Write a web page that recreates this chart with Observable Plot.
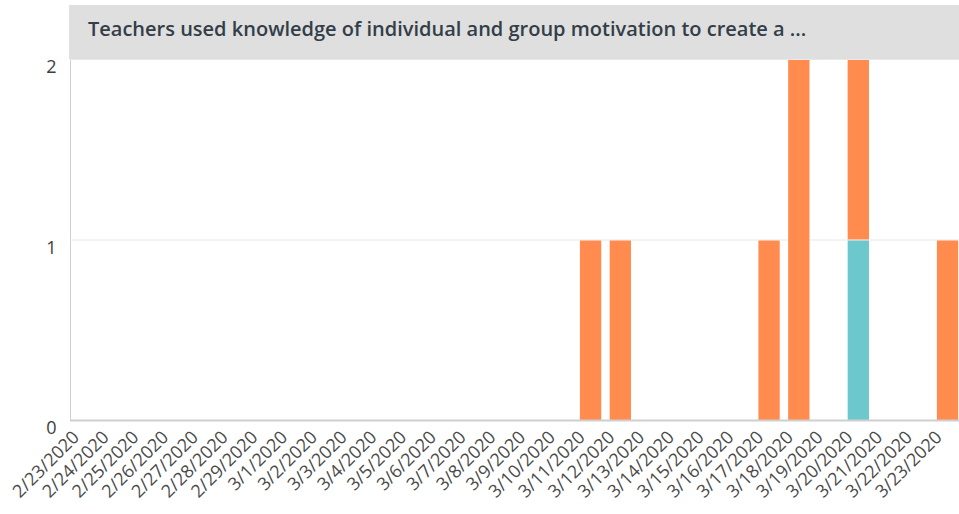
<!DOCTYPE html>
<html>
<head>
<meta charset="utf-8">
<script src="https://cdn.jsdelivr.net/npm/d3@7"></script>
<script src="https://cdn.jsdelivr.net/npm/@observablehq/plot@0.6"></script>
<style>
  html, body { margin: 0; padding: 0; background: #fff; overflow: hidden; }
  #wrap { position: relative; width: 959px; height: 514px; }
  #title {
    position: absolute; left: 69px; top: 5px; width: 890px; height: 54px;
    box-sizing: border-box; padding: 10px 0 0 19px; background: #dfdfdf;
    font-family: "Open Sans", sans-serif; font-weight: 600; font-size: 20px;
    color: #333e48; white-space: nowrap; z-index: 2;
  }
  #chart { position: absolute; left: 0; top: 0; }
  #chart svg text { font-size: 18px; }
</style>
</head>
<body>
<div id="wrap">
  <div id="title">Teachers used knowledge of individual and group motivation to create a ...</div>
  <div id="chart"></div>
</div>
<script>
const dates = ["2/23/2020","2/24/2020","2/25/2020","2/26/2020","2/27/2020","2/28/2020","2/29/2020",
  "3/1/2020","3/2/2020","3/3/2020","3/4/2020","3/5/2020","3/6/2020","3/7/2020","3/8/2020","3/9/2020",
  "3/10/2020","3/11/2020","3/12/2020","3/13/2020","3/14/2020","3/15/2020","3/16/2020","3/17/2020",
  "3/18/2020","3/19/2020","3/20/2020","3/21/2020","3/22/2020","3/23/2020"];
const seriesNames = ["Series B", "Series A"];
const seriesColors = ["#6cc8cc", "#ff8b4f"];
const seriesB = [0,0,0,0,0,0,0,0,0,0,0,0,0,0,0,0,0,0,0,0,0,0,0,0,0,0,1,0,0,0];
const seriesA = [0,0,0,0,0,0,0,0,0,0,0,0,0,0,0,0,0,1,1,0,0,0,0,1,2,0,1,0,0,1];
const yTicks = [0, 1, 2];

const rows = [];
[seriesB, seriesA].forEach((vals, s) => {
  vals.forEach((v, i) => { if (v > 0) rows.push({date: dates[i], series: seriesNames[s], value: v}); });
});

const chart = Plot.plot({
  width: 959,
  height: 514,
  marginTop: 59,
  marginBottom: 94,
  marginLeft: 70,
  marginRight: 0,
  style: { fontFamily: "Open Sans, sans-serif", fontSize: "18px", color: "#cfcfcf", background: "transparent" },
  x: {
    type: "band", domain: dates, range: [70, 962.4], paddingInner: 0.284, paddingOuter: 0.141, round: false,
    axis: null
  },
  y: { domain: [0, 2], ticks: yTicks, tickFormat: () => "", tickSize: 0, line: true, label: null },
  color: { domain: seriesNames, range: seriesColors },
  marks: [
    Plot.ruleY(yTicks.filter(t => t > 0), { stroke: "#e8e8e8", strokeWidth: 1 }),
    Plot.barY(rows, { x: "date", y: "value", fill: "series", insetTop: 1 }),
    Plot.ruleY([0], { stroke: "#cfcfcf", strokeWidth: 2 }),
    Plot.text(yTicks, { y: d => d, text: d => String(d), frameAnchor: "left", textAnchor: "end", dx: -14, dy: 8, fill: "#3d3d3d" }),
    Plot.text(dates, { x: d => d, text: d => d, frameAnchor: "bottom", textAnchor: "end", rotate: -45, dx: -5, dy: 18, fill: "#4a4a4a" })
  ]
});
document.getElementById("chart").appendChild(chart);
</script>
</body>
</html>
